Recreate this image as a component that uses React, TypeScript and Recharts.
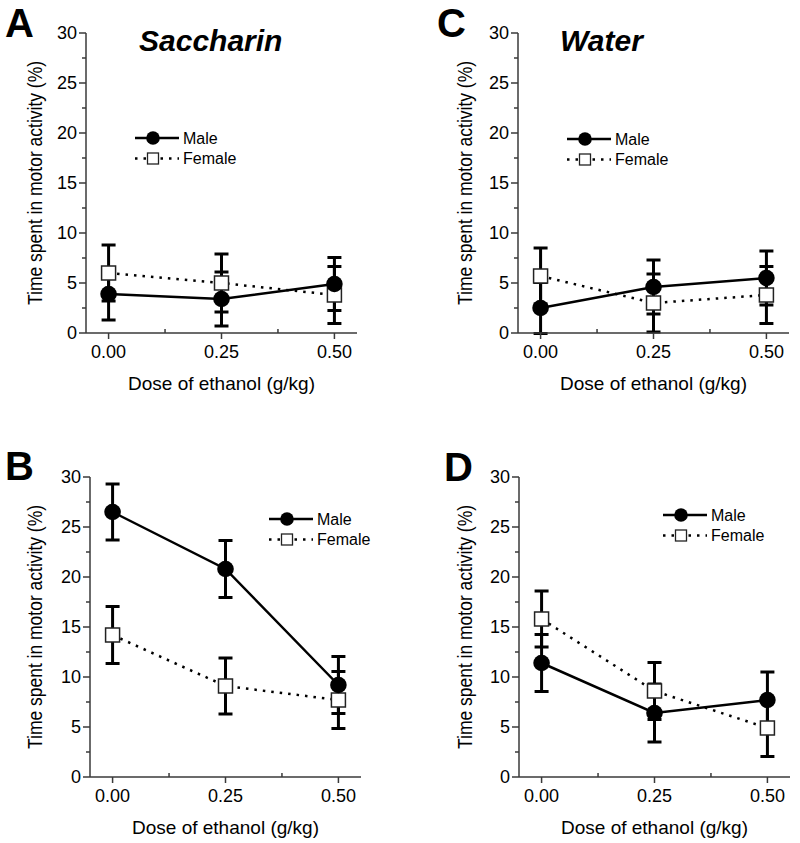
import React from 'react'
import { ErrorBar, Legend, Line, LineChart, XAxis, YAxis } from 'recharts'

// Four panels: motor activity vs ethanol dose, males and females.

const FONT = '"Liberation Sans", Arial, Helvetica, sans-serif'
const AXIS_COLOR = '#3a3a3a'

const DOSES = [0, 0.25, 0.5]
const DOSE_TICKS = [0, 0.125, 0.25, 0.375, 0.5]
const PCT_TICKS = [0, 2.5, 5, 7.5, 10, 12.5, 15, 17.5, 20, 22.5, 25, 27.5, 30]
const SERIES = ['Male', 'Female']

const X_TITLE = 'Dose of ethanol (g/kg)'
const Y_TITLE = 'Time spent in motor activity (%)'

// A — Saccharin, top
const A_MALE = [3.9, 3.4, 4.9]
const A_MALE_SE = [2.6, 2.7, 2.65]
const A_FEMALE = [6.0, 5.0, 3.8]
const A_FEMALE_SE = [2.8, 2.9, 2.85]

// B — Saccharin, bottom
const B_MALE = [26.5, 20.8, 9.2]
const B_MALE_SE = [2.8, 2.85, 2.85]
const B_FEMALE = [14.2, 9.1, 7.7]
const B_FEMALE_SE = [2.85, 2.8, 2.85]

// C — Water, top
const C_MALE = [2.5, 4.6, 5.5]
const C_MALE_SE = [2.55, 2.7, 2.7]
const C_FEMALE = [5.7, 3.0, 3.8]
const C_FEMALE_SE = [2.8, 2.9, 2.85]

// D — Water, bottom
const D_MALE = [11.4, 6.4, 7.7]
const D_MALE_SE = [2.85, 2.9, 2.8]
const D_FEMALE = [15.8, 8.6, 4.9]
const D_FEMALE_SE = [2.8, 2.85, 2.85]

function DoseTick({ x, y, payload }: any) {
  const v = payload.value as number
  const major = DOSES.includes(v)
  return (
    <g>
      <line x1={x} x2={x} y1={y} y2={major ? y + 6 : y - 4} stroke={AXIS_COLOR} strokeWidth={1.5} />
      {major && (
        <text x={x} y={y + 25} textAnchor="middle" fontSize={18} fontFamily={FONT} fill="#000">
          {v.toFixed(2)}
        </text>
      )}
    </g>
  )
}

function PctTick({ x, y, payload }: any) {
  const v = payload.value as number
  const major = v % 5 === 0
  return (
    <g>
      <line x1={x - (major ? 7 : 4)} x2={x} y1={y} y2={y} stroke={AXIS_COLOR} strokeWidth={1.5} />
      {major && (
        <text x={x - 9} y={y} dy="0.36em" textAnchor="end" fontSize={18} fontFamily={FONT} fill="#000">
          {v}
        </text>
      )}
    </g>
  )
}

function FemaleDot(props: any) {
  const { cx, cy, index } = props
  if (cx == null || cy == null) return <g key={`f-${index}`} />
  return (
    <rect key={`f-${index}`} x={cx - 7} y={cy - 7} width={14} height={14}
      fill="#fff" stroke="#222" strokeWidth={1.5} />
  )
}

function LegendBox() {
  return (
    <svg width={140} height={40} style={{ display: 'block' }}>
      <line x1={2} x2={46} y1={10} y2={10} stroke="#000" strokeWidth={2.5} />
      <circle cx={20} cy={10} r={6.8} fill="#000" />
      <text x={50} y={10} dy="0.36em" fontSize={16} fontFamily={FONT}>{SERIES[0]}</text>
      <line x1={2} x2={46} y1={30.5} y2={30.5} stroke="#000" strokeWidth={2.5} strokeDasharray="2.5 6" />
      <rect x={14.5} y={25} width={11} height={11} fill="#fff" stroke="#222" strokeWidth={1.3} />
      <text x={50} y={30.5} dy="0.36em" fontSize={16} fontFamily={FONT}>{SERIES[1]}</text>
    </svg>
  )
}

interface PanelProps {
  left: number
  top: number
  yAxisWidth: number
  male: number[]
  maleSe: number[]
  female: number[]
  femaleSe: number[]
  legendX: number
  legendY: number
}

function Panel({ left, top, yAxisWidth, male, maleSe, female, femaleSe, legendX, legendY }: PanelProps) {
  const rows = DOSES.map((d, i) => ({
    dose: d,
    male: male[i],
    maleErr: maleSe[i],
    female: female[i],
    femaleErr: femaleSe[i],
  }))
  const width = 370
  return (
    <div style={{ position: 'absolute', left, top }}>
      <LineChart
        width={width}
        height={400}
        data={rows}
        margin={{ top: 33, right: width - yAxisWidth - 271, bottom: 0, left: 0 }}
      >
        <XAxis
          type="number"
          dataKey="dose"
          domain={[-0.05, 0.55]}
          ticks={DOSE_TICKS}
          interval={0}
          allowDataOverflow
          height={67}
          tickLine={false}
          tickSize={0}
          tickMargin={0}
          tick={<DoseTick />}
          axisLine={{ stroke: AXIS_COLOR, strokeWidth: 1.5 }}
          label={(p: any) => (
            <text x={p.viewBox.x + p.viewBox.width / 2} y={p.viewBox.y + 57} textAnchor="middle"
              fontSize={19} fontFamily={FONT} fill="#000">
              {X_TITLE}
            </text>
          )}
        />
        <YAxis
          type="number"
          domain={[0, 30]}
          ticks={PCT_TICKS}
          interval={0}
          allowDataOverflow
          width={yAxisWidth}
          tickLine={false}
          tickSize={0}
          tickMargin={0}
          tick={<PctTick />}
          axisLine={{ stroke: AXIS_COLOR, strokeWidth: 1.5 }}
          label={(p: any) => {
            const cx = p.viewBox.x + 35
            const cy = p.viewBox.y + p.viewBox.height / 2
            return (
              <text x={cx} y={cy} transform={`rotate(-90 ${cx} ${cy})`} textAnchor="middle" dy="0.36em"
                fontSize={20} fontFamily={FONT} fill="#000" textLength={244} lengthAdjust="spacingAndGlyphs">
                {Y_TITLE}
              </text>
            )
          }}
        />
        <Legend
          layout="vertical"
          align="center"
          verticalAlign="middle"
          content={() => <LegendBox />}
          wrapperStyle={{ position: 'absolute', left: legendX - 2, top: legendY - 10, width: 140, height: 40 }}
        />
        <Line
          type="linear"
          dataKey="female"
          name={SERIES[1]}
          stroke="#000"
          strokeWidth={2.5}
          strokeDasharray="2.5 6"
          dot={FemaleDot}
          activeDot={false}
          isAnimationActive={false}
        >
          <ErrorBar dataKey="femaleErr" direction="y" width={7} stroke="#000" strokeWidth={3} />
        </Line>
        <Line
          type="linear"
          dataKey="male"
          name={SERIES[0]}
          stroke="#000"
          strokeWidth={2.5}
          dot={{ r: 8.3, fill: '#000', stroke: '#000', strokeWidth: 0 }}
          activeDot={false}
          isAnimationActive={false}
        >
          <ErrorBar dataKey="maleErr" direction="y" width={7} stroke="#000" strokeWidth={3} />
        </Line>
      </LineChart>
    </div>
  )
}

export default function App() {
  return (
    <div style={{ position: 'relative', width: 800, height: 843, overflow: 'hidden', background: '#fff' }}>
      <style>{'body{margin:0}'}</style>
      <svg width={800} height={843} style={{ position: 'absolute', left: 0, top: 0 }}>
        <g fontFamily={FONT} fill="#000">
          <text x={5} y={37} fontSize={40} fontWeight="bold">A</text>
          <text x={437} y={37} fontSize={40} fontWeight="bold">C</text>
          <text x={5} y={480} fontSize={40} fontWeight="bold">B</text>
          <text x={444} y={481} fontSize={40} fontWeight="bold">D</text>
          <text x={139} y={51} fontSize={30} fontWeight="bold" fontStyle="italic">Saccharin</text>
          <text x={560} y={51} fontSize={30} fontWeight="bold" fontStyle="italic">Water</text>
        </g>
      </svg>
      <Panel left={0} top={0} yAxisWidth={86} male={A_MALE} maleSe={A_MALE_SE}
        female={A_FEMALE} femaleSe={A_FEMALE_SE} legendX={135} legendY={137.5} />
      <Panel left={0} top={444} yAxisWidth={90} male={B_MALE} maleSe={B_MALE_SE}
        female={B_FEMALE} femaleSe={B_FEMALE_SE} legendX={269} legendY={74.5} />
      <Panel left={430} top={0} yAxisWidth={88} male={C_MALE} maleSe={C_MALE_SE}
        female={C_FEMALE} femaleSe={C_FEMALE_SE} legendX={137} legendY={139} />
      <Panel left={430} top={444} yAxisWidth={89} male={D_MALE} maleSe={D_MALE_SE}
        female={D_FEMALE} femaleSe={D_FEMALE_SE} legendX={233} legendY={71} />
    </div>
  )
}
